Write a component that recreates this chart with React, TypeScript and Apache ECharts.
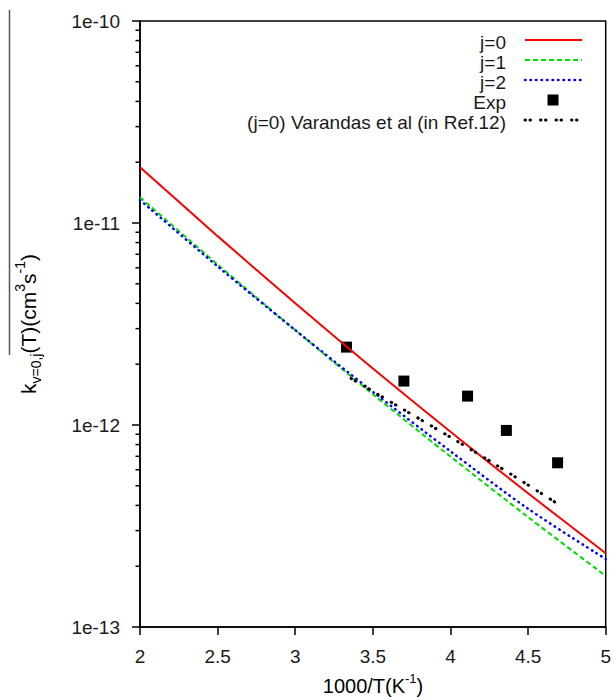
import React, { useEffect, useRef } from 'react';
import * as echarts from 'echarts';

// ---- data ----
const X_J = [2, 2.5, 3, 3.5, 4, 4.5, 5];
const K_J0 = [1.89e-11, 8.61e-12, 4.01e-12, 1.905e-12, 9.25e-13, 4.59e-13, 2.32e-13];
const K_J1 = [1.34e-11, 6.23e-12, 2.95e-12, 1.42e-12, 6.98e-13, 3.5e-13, 1.79e-13];
const K_J2 = [1.30e-11, 6.1e-12, 2.95e-12, 1.46e-12, 7.41e-13, 3.85e-13, 2.17e-13];

const X_VAR = [3.36, 3.7, 4.0, 4.3, 4.68];
const K_VAR = [1.70e-12, 1.19e-12, 8.7e-13, 6.3e-13, 4.12e-13];

const X_EXP = [3.33, 3.7, 4.11, 4.36, 4.69];
const K_EXP = [2.43e-12, 1.65e-12, 1.39e-12, 9.4e-13, 6.5e-13];

const X_TICK_STEP = 0.5;
const X_MIN = 2;
const X_MAX = 5;
const Y_MIN = 1e-13;
const Y_MAX = 1e-10;
const DECADES = [-13, -12, -11];
const MINOR_MULT = [2, 3, 4, 5, 6, 7, 8, 9];

const LEGEND_NAMES = ['j=0', 'j=1', 'j=2', 'Exp', '(j=0) Varandas et al (in Ref.12)'];

const FONT = '"Liberation Sans", Arial, Helvetica, sans-serif';
const TXT = '#1a1a1a';

const RED = '#ff0000';
const GREEN = '#00dd00';
const BLUE = '#0000ff';
const BLACK = '#000000';
const DASH_GREEN = [5, 3];
const DASH_BLUE = [0.5, 5];
const DASH_VAR = [0.5, 4.5, 0.5, 10];

export default function App() {
  const ref = useRef<HTMLDivElement>(null);

  useEffect(() => {
    const chart = echarts.init(ref.current as HTMLDivElement, null, { renderer: 'svg' });

    const pair = (xs: number[], ys: number[]) => xs.map((x, i) => [x, ys[i]]);
    const minor: number[][] = [];
    DECADES.forEach((d) => MINOR_MULT.forEach((m) => minor.push([X_MIN, m * Math.pow(10, d)])));

    const richY = {
      n: { fontSize: 21, fontFamily: FONT, color: TXT, lineHeight: 30 },
      sub: { fontSize: 14, fontFamily: FONT, color: TXT, verticalAlign: 'bottom', lineHeight: 14 },
      sup: { fontSize: 14, fontFamily: FONT, color: TXT, verticalAlign: 'top', lineHeight: 14 },
    };
    const richX = {
      n: { fontSize: 20, fontFamily: FONT, color: TXT, lineHeight: 28 },
      sup: { fontSize: 13, fontFamily: FONT, color: TXT, verticalAlign: 'top', lineHeight: 13 },
    };

    const legendY = [40, 60, 80, 100, 120];
    const lx1 = 525;
    const lx2 = 582;
    const legendGraphics: any[] = [];
    LEGEND_NAMES.forEach((name, i) => {
      legendGraphics.push({
        type: 'text',
        x: 506,
        y: legendY[i] + 2,
        style: { text: name, font: `19px ${FONT}`, fill: TXT, align: 'right', verticalAlign: 'middle' },
      });
    });
    legendGraphics.push(
      { type: 'line', shape: { x1: lx1, y1: legendY[0], x2: lx2, y2: legendY[0] }, style: { stroke: RED, lineWidth: 2 } },
      { type: 'line', shape: { x1: lx1, y1: legendY[1], x2: lx2, y2: legendY[1] }, style: { stroke: GREEN, lineWidth: 2, lineDash: DASH_GREEN } },
      { type: 'line', shape: { x1: lx1, y1: legendY[2], x2: lx2, y2: legendY[2] }, style: { stroke: BLUE, lineWidth: 2.5, lineDash: DASH_BLUE, lineCap: 'round' } },
      { type: 'rect', shape: { x: 553 - 5.5, y: legendY[3] - 5.5, width: 11, height: 11 }, style: { fill: BLACK } },
      { type: 'line', shape: { x1: lx1, y1: legendY[4], x2: lx2, y2: legendY[4] }, style: { stroke: BLACK, lineWidth: 3, lineDash: DASH_VAR, lineCap: 'round' } },
    );

    const option: any = {
      animation: false,
      backgroundColor: '#fff',
      grid: { left: 140, right: 8, top: 21, bottom: 73, show: true, borderColor: '#000', borderWidth: 1.5, backgroundColor: 'transparent' },
      xAxis: {
        type: 'value',
        min: X_MIN,
        max: X_MAX,
        interval: X_TICK_STEP,
        axisLine: { onZero: false, lineStyle: { color: '#000', width: 1.5 } },
        axisTick: { length: 8, lineStyle: { color: '#000', width: 1.5 } },
        axisLabel: { color: TXT, fontSize: 19, fontFamily: FONT, margin: 20 },
        splitLine: { show: false },
      },
      yAxis: {
        type: 'log',
        logBase: 10,
        min: Y_MIN,
        max: Y_MAX,
        axisLine: { onZero: false, lineStyle: { color: '#000', width: 1.5 } },
        axisTick: { length: 8, lineStyle: { color: '#000', width: 1.5 } },
        axisLabel: {
          color: TXT,
          fontSize: 19,
          fontFamily: FONT,
          margin: 20,
          formatter: (v: number) => '1e' + Math.round(Math.log10(v)),
        },
        splitLine: { show: false },
      },
      series: [
        {
          name: 'minor',
          type: 'custom',
          data: minor,
          clip: false,
          silent: true,
          encode: { x: 0, y: 1 },
          renderItem: (params: any, api: any) => {
            const p = api.coord([api.value(0), api.value(1)]);
            return {
              type: 'line',
              shape: { x1: p[0] - 4.5, y1: p[1], x2: p[0], y2: p[1] },
              style: { stroke: '#000', lineWidth: 1.5 },
            };
          },
        },
        { name: LEGEND_NAMES[1], type: 'line', data: pair(X_J, K_J1), symbol: 'none', smooth: 0.3, lineStyle: { color: GREEN, width: 2, type: DASH_GREEN } },
        { name: LEGEND_NAMES[2], type: 'line', data: pair(X_J, K_J2), symbol: 'none', smooth: 0.3, lineStyle: { color: BLUE, width: 2.5, type: DASH_BLUE, cap: 'round' } },
        { name: LEGEND_NAMES[0], type: 'line', data: pair(X_J, K_J0), symbol: 'none', smooth: 0.3, lineStyle: { color: RED, width: 2 } },
        { name: LEGEND_NAMES[4], type: 'line', data: pair(X_VAR, K_VAR), symbol: 'none', smooth: 0.3, lineStyle: { color: BLACK, width: 3, type: DASH_VAR, cap: 'round' } },
        { name: LEGEND_NAMES[3], type: 'scatter', data: pair(X_EXP, K_EXP), symbol: 'rect', symbolSize: 11, itemStyle: { color: BLACK, opacity: 1 } },
      ],
      graphic: [
        { type: 'line', shape: { x1: 9.5, y1: 10, x2: 9.5, y2: 355 }, style: { stroke: '#555', lineWidth: 1.5 } },
        {
          type: 'text',
          x: 28,
          y: 324,
          rotation: Math.PI / 2,
          style: {
            text: '{n|k}{sub|v=0,j}{n|(T)(cm}{sup|3}{n|s}{sup|-1}{n|)}',
            rich: richY,
            align: 'center',
            verticalAlign: 'middle',
          },
        },
        {
          type: 'text',
          x: 373,
          y: 686,
          style: {
            text: '{n|1000/T(K}{sup|-1}{n|)}',
            rich: richX,
            align: 'center',
            verticalAlign: 'middle',
          },
        },
        ...legendGraphics,
      ],
    };

    chart.setOption(option);
    return () => chart.dispose();
  }, []);

  return <div ref={ref} style={{ position: 'fixed', left: 0, top: 0, width: 614, height: 700, background: '#fff' }} />;
}
